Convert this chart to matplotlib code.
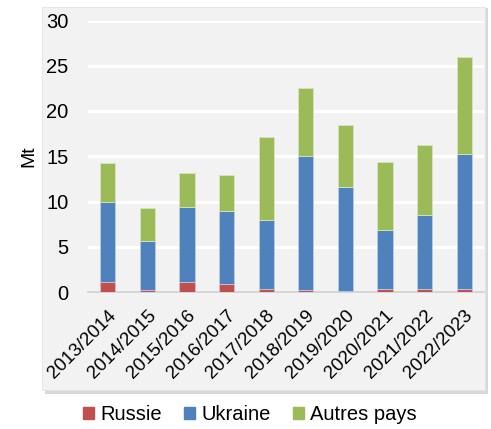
import matplotlib.pyplot as plt
from matplotlib.patches import Rectangle, Patch
import numpy as np

plt.rcParams['font.family'] = ['Liberation Sans', 'DejaVu Sans']

# campagnes et volumes (Mt)
saisons = ['2013/2014', '2014/2015', '2015/2016', '2016/2017', '2017/2018',
           '2018/2019', '2019/2020', '2020/2021', '2021/2022', '2022/2023']
russie = [1.1, 0.2, 1.1, 0.9, 0.35, 0.25, 0.1, 0.35, 0.35, 0.3]
ukraine = [8.8, 5.4, 8.3, 8.1, 7.65, 14.75, 11.5, 6.45, 8.15, 15.0]
autres = [4.3, 3.7, 3.7, 3.9, 9.1, 7.5, 6.8, 7.6, 7.7, 10.7]

c_rus = '#c0504d'
c_ukr = '#4f81bd'
c_aut = '#9bbb59'

fig = plt.figure(figsize=(4.91, 4.29), dpi=100)

# grey panel with shadow behind the plot
W, H = 491, 429
shadow = Rectangle((45 / W, 1 - 394 / H), 443 / W, 386 / H, transform=fig.transFigure,
                   facecolor='#bfbfbf', edgecolor='none', alpha=0.6, zorder=-2)
panel = Rectangle((42 / W, 1 - 390 / H), 443 / W, 383 / H, transform=fig.transFigure,
                  facecolor='#f2f2f2', edgecolor='#e0e0e0', linewidth=0.5, zorder=-1)
fig.patches.extend([shadow, panel])

ax = fig.add_axes([88 / W, 1 - 292 / H, 396 / W, 271.5 / H])
ax.set_facecolor('none')

x = np.arange(len(saisons))
w = 0.38
russie = np.array(russie)
ukraine = np.array(ukraine)
autres = np.array(autres)
ax.bar(x, russie, w, color=c_rus, edgecolor='#e6b9b8', linewidth=0.6, zorder=3)
ax.bar(x, ukraine, w, bottom=russie, color=c_ukr, edgecolor='#b9cde5', linewidth=0.6, zorder=3)
ax.bar(x, autres, w, bottom=russie + ukraine, color=c_aut, edgecolor='#d7e4bd', linewidth=0.6, zorder=3)

ax.set_xlim(-0.5, len(saisons) - 0.5)
ax.set_ylim(0, 30)
ax.set_yticks(np.arange(0, 31, 5))
ax.yaxis.grid(True, color='white', linewidth=2.2, zorder=1)
ax.set_axisbelow(True)
for s in ['top', 'right', 'left']:
    ax.spines[s].set_visible(False)
ax.spines['bottom'].set_color('#d0d0d0')
ax.spines['bottom'].set_linewidth(1.2)
ax.spines['bottom'].set_zorder(2)

ax.tick_params(axis='y', length=0, pad=14, labelsize=14.5)
ax.tick_params(axis='x', length=0, pad=11, labelsize=13.5)
ax.set_xticks(x)
ax.set_xticklabels(saisons, rotation=45, ha='right', rotation_mode='anchor')
ax.set_ylabel('Mt', fontsize=14, labelpad=6)

handles = [Patch(color=c_rus, label='Russie'),
           Patch(color=c_ukr, label='Ukraine'),
           Patch(color=c_aut, label='Autres pays')]
fig.legend(handles=handles, loc='center', bbox_to_anchor=(250 / W, 1 - 415 / H), ncol=3,
           frameon=False, fontsize=14.5, handlelength=0.55, handleheight=0.55,
           handletextpad=0.3, columnspacing=1.1)

fig.savefig('out.png', dpi=100)
